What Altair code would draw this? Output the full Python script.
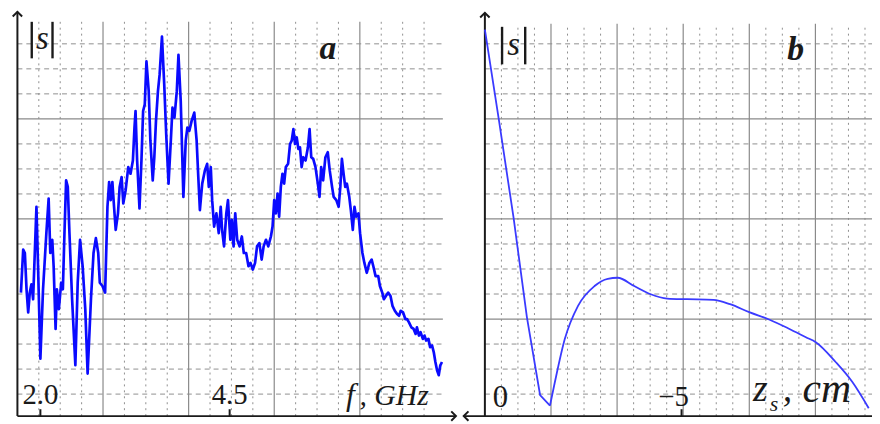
import altair as alt
import pandas as pd

# ---------------- data: panel a, spectrum |s| vs f (GHz) ----------------
f_ghz = [1.743, 1.773, 1.795, 1.817, 1.839, 1.860, 1.882, 1.904, 1.926, 1.948,
         1.969, 2.000, 2.035, 2.079, 2.109, 2.131, 2.157, 2.175, 2.201, 2.218,
         2.244, 2.275, 2.297, 2.318, 2.340, 2.362, 2.384, 2.419, 2.462, 2.493,
         2.524, 2.558, 2.593, 2.624, 2.668, 2.702, 2.733, 2.764, 2.785, 2.820,
         2.855, 2.886, 2.908, 2.929, 2.951, 2.973, 2.995, 3.025, 3.047, 3.073,
         3.095, 3.126, 3.161, 3.191, 3.222, 3.243, 3.257, 3.278, 3.309, 3.335,
         3.357, 3.379, 3.401, 3.431, 3.453, 3.484, 3.505, 3.527, 3.553, 3.575,
         3.606, 3.636, 3.662, 3.693, 3.723, 3.745, 3.771, 3.802, 3.824, 3.854,
         3.889, 3.920, 3.942, 3.968, 3.998, 4.033, 4.064, 4.086, 4.107, 4.138,
         4.173, 4.203, 4.225, 4.251, 4.269, 4.295, 4.325, 4.356, 4.382, 4.400,
         4.426, 4.456, 4.478, 4.509, 4.530, 4.552, 4.574, 4.600, 4.631, 4.661,
         4.687, 4.718, 4.749, 4.775, 4.806, 4.836, 4.862, 4.893, 4.923, 4.949,
         4.980, 5.010, 5.045, 5.067, 5.089, 5.111, 5.133, 5.154, 5.176, 5.198,
         5.220, 5.242, 5.272, 5.298, 5.320, 5.342, 5.364, 5.386, 5.408, 5.429,
         5.451, 5.473, 5.503, 5.534, 5.556, 5.578, 5.604, 5.634, 5.665, 5.687,
         5.709, 5.735, 5.765, 5.796, 5.822, 5.853, 5.874, 5.909, 5.940, 5.962,
         5.983, 6.005, 6.027, 6.049, 6.080, 6.101, 6.127, 6.149, 6.171, 6.202,
         6.223, 6.254, 6.280, 6.311, 6.346, 6.376, 6.398, 6.428, 6.463, 6.485,
         6.516, 6.537, 6.564, 6.594, 6.625, 6.651, 6.682, 6.712, 6.738, 6.760,
         6.791, 6.821, 6.843, 6.869, 6.900, 6.930, 6.957, 6.974, 7.000, 7.022,
         7.052, 7.074, 7.096, 7.126, 7.148, 7.174, 7.196, 7.218, 7.240, 7.262,
         7.283, 7.305]
s_a = [38.3, 51.3, 50.3, 39.3, 32.3, 38.3, 40.8, 36.3, 50.3, 64.3,
       46.3, 18.3, 39.3, 56.3, 66.8, 50.3, 54.3, 46.3, 27.3, 39.3,
       33.3, 41.3, 39.3, 56.3, 72.3, 70.3, 56.3, 36.3, 16.3, 41.3,
       54.3, 46.3, 33.3, 13.8, 36.3, 50.3, 54.8, 50.3, 41.3, 40.3,
       38.3, 64.3, 71.8, 66.3, 71.8, 64.3, 57.3, 62.3, 70.3, 73.3,
       65.3, 69.3, 76.3, 74.3, 78.3, 88.3, 93.3, 78.3, 63.8, 78.3,
       93.3, 95.3, 108.3, 99.3, 84.3, 72.3, 79.3, 90.3, 99.3, 104.3,
       115.8, 101.3, 86.3, 71.3, 84.3, 94.3, 91.3, 99.3, 110.3, 96.3,
       67.3, 84.3, 88.3, 87.3, 90.3, 92.8, 84.3, 73.3, 63.3, 71.3,
       75.3, 77.3, 70.3, 76.3, 66.3, 58.3, 62.3, 56.3, 64.3, 57.3,
       52.3, 62.3, 66.3, 54.3, 60.3, 52.3, 62.3, 54.3, 52.3, 55.3,
       50.3, 50.3, 46.3, 47.3, 45.3, 47.3, 52.3, 53.3, 48.3, 52.3,
       54.3, 52.3, 55.3, 58.3, 66.3, 62.3, 68.3, 61.3, 70.3, 74.3,
       71.3, 76.3, 77.3, 83.3, 84.3, 87.8, 83.3, 85.3, 81.8, 82.3,
       76.3, 79.3, 78.3, 82.3, 87.8, 79.3, 78.8, 76.3, 71.3, 67.3,
       76.3, 72.3, 79.3, 80.8, 75.3, 70.3, 67.3, 66.3, 64.3, 70.3,
       78.8, 74.3, 70.3, 71.3, 67.3, 63.3, 57.3, 64.3, 61.3, 62.3,
       56.3, 50.3, 47.3, 44.3, 47.3, 48.3, 46.3, 43.3, 43.3, 40.3,
       38.3, 36.3, 37.3, 38.3, 37.3, 34.3, 32.8, 31.8, 31.3, 32.8,
       32.3, 30.3, 30.3, 29.3, 27.8, 27.3, 25.8, 27.8, 25.3, 26.3,
       24.3, 25.3, 23.8, 24.3, 21.8, 22.3, 20.3, 17.3, 14.8, 13.3,
       16.3, 17.3]

# ---------------- data: panel b, |s| vs z_s (cm) ----------------
z_cm = [0.0, -0.353, -0.730, -1.068, -1.403, -1.655, -1.781, -2.033, -2.368, -2.788,
        -3.123, -3.375, -3.796, -4.217, -4.635, -5.139, -5.811, -6.232, -6.736, -7.239,
        -7.743, -8.161, -8.413, -8.917, -9.338, -9.758]
s_b = [117.9, 90.8, 60.9, 30.9, 7.3, 4.1, 11.3, 24.3, 34.3, 40.3,
       42.5, 42.8, 40.3, 37.8, 36.5, 36.3, 36.1, 34.8, 32.3, 30.1,
       27.3, 24.8, 23.3, 17.3, 11.3, 3.3]
MIN_INDEX_B = 5  # the sharp minimum of curve b

a_ticks = [2.0, 4.5]
a_tick_labels = ["2.0", "4.5"]
b_ticks = [-5]
b_tick_labels = ["\u22125"]

# ---------------- styling ----------------
SERIF = "Liberation Serif, Times New Roman, Tinos, DejaVu Serif, serif"
GRID = "#8f8f8f"
INK = "#1a1a1a"


def sc(domain, rng):
    return alt.Scale(domain=domain, range=rng, zero=False, nice=False)


FX = sc([1.690, 7.462], [9, 450])
ZX = sc([0, -10], [481.3, 878.3])
SY = sc([0, 123.9], [413, 0])
GXA = sc([0, 20], [9.5, 441.5])
GXB = sc([0, 24], [481.3, 881.6])
GY = sc([0, 16.356], [413, 0])

K_AX = 0.12

UP = "M-1,1L0,0L1,1"
RIGHT = "M-1,-1L0,0L-1,1"
LEFT = "M1,-1L0,0L1,1"


def X(field, scale):
    return alt.X(field, type="quantitative", scale=scale, axis=None)


def Y(field, scale):
    return alt.Y(field, type="quantitative", scale=scale, axis=None)


def text_layer(df, gx, size, style="italic", weight="normal", align="left"):
    return alt.Chart(df).mark_text(
        font=SERIF, fontSize=size, fontStyle=style, fontWeight=weight,
        align=align, baseline="alphabetic", color=INK
    ).encode(x=X("j", gx), y=Y("k", GY), text="t:N")


def grid_panel(gx, n_v, h_end, v_top, x_from, x_to, arrows, bars, s_pos, letter,
               axis_texts):
    vmin = pd.DataFrame({"j": [j for j in range(1, n_v + 1) if j % 4]})
    vmin["k0"], vmin["k1"] = K_AX, v_top
    vmaj = pd.DataFrame({"j": [j for j in range(4, n_v + 1, 4)]})
    vmaj["k0"], vmaj["k1"] = K_AX, v_top
    hmin = pd.DataFrame({"k": [k for k in range(1, 16) if k % 4]})
    hmin["j0"], hmin["j1"] = 0, h_end
    hmaj = pd.DataFrame({"k": [4, 8, 12]})
    hmaj["j0"], hmaj["j1"] = 0, h_end

    axes = pd.DataFrame({
        "j0": [0, x_from], "j1": [0, x_to],
        "k0": [K_AX, K_AX], "k1": [arrows[0][1], K_AX],
    })
    arr = pd.DataFrame({"j": [a[0] for a in arrows], "k": [a[1] for a in arrows],
                        "shape": [a[2] for a in arrows]})
    bar_df = pd.DataFrame({"j0": bars[0], "k0": bars[1], "k1": bars[2]})

    layers = [
        alt.Chart(vmin).mark_rule(stroke=GRID, strokeWidth=1, strokeDash=[2, 4]).encode(
            x=X("j", gx), y=Y("k0", GY), y2="k1"),
        alt.Chart(hmin).mark_rule(stroke=GRID, strokeWidth=1, strokeDash=[5, 4]).encode(
            y=Y("k", GY), x=X("j0", gx), x2="j1"),
        alt.Chart(vmaj).mark_rule(stroke="#8a8a8a", strokeWidth=1.2).encode(
            x=X("j", gx), y=Y("k0", GY), y2="k1"),
        alt.Chart(hmaj).mark_rule(stroke="#8a8a8a", strokeWidth=1.2).encode(
            y=Y("k", GY), x=X("j0", gx), x2="j1"),
        alt.Chart(axes).mark_rule(stroke=INK, strokeWidth=2).encode(
            x=X("j0", gx), x2="j1", y=Y("k0", GY), y2="k1"),
        alt.Chart(arr).mark_point(filled=False, stroke=INK, strokeWidth=2, size=90,
                                  opacity=1).encode(
            x=X("j", gx), y=Y("k", GY), shape=alt.Shape("shape:N", scale=None)),
        alt.Chart(bar_df).mark_rule(stroke=INK, strokeWidth=2.4).encode(
            x=X("j0", gx), y=Y("k0", GY), y2="k1"),
        text_layer(pd.DataFrame({"j": [s_pos[0]], "k": [s_pos[1]], "t": ["s"]}), gx, 33,
                   align="center"),
        text_layer(pd.DataFrame({"j": [letter[0]], "k": [letter[1]], "t": [letter[2]]}),
                   gx, 34, weight="bold", align="center"),
    ]
    for (j, k, t, size) in axis_texts:
        layers.append(text_layer(pd.DataFrame({"j": [j], "k": [k], "t": [t]}), gx, size))
    return alt.layer(*layers)


grid_a = grid_panel(
    GXA, 19, 19.88, 15.88, 0, 20.49,
    arrows=[(0, 16.28, UP), (20.49, K_AX, RIGHT)],
    bars=([0.67, 1.64], [14.42, 14.42], [15.88, 15.88]),
    s_pos=(1.16, 14.81), letter=(14.51, 14.38, "a"),
    axis_texts=[(15.35, 0.554, "f", 32), (15.98, 0.554, ", GHz", 30)],
)

grid_b = grid_panel(
    GXB, 23, 23.6, 15.8, -1.28, 23.6,
    arrows=[(0, 16.24, UP), (-1.28, K_AX, LEFT)],
    bars=([1.04, 2.44], [14.18, 14.18], [15.68, 15.68]),
    s_pos=(1.74, 14.57), letter=(18.81, 14.36, "b"),
    axis_texts=[(16.23, 0.713, "z", 38), (17.24, 0.317, "s", 22),
                (18.02, 0.713, ",", 38), (19.22, 0.673, "cm", 42)],
)

# ---------------- data layers ----------------
df_a = pd.DataFrame({"f": f_ghz, "s": s_a})
df_b_fall = pd.DataFrame({"z": z_cm[:MIN_INDEX_B + 1], "s": s_b[:MIN_INDEX_B + 1]})
df_b_rise = pd.DataFrame({"z": z_cm[MIN_INDEX_B:], "s": s_b[MIN_INDEX_B:]})
ticks_a = pd.DataFrame({"f": a_ticks, "t": a_tick_labels, "s0": 0.9, "s1": 3.0, "sl": 4.5})
ticks_b = pd.DataFrame({"z": b_ticks, "t": b_tick_labels, "s0": 0.9, "s1": 3.0, "sl": 3.9})
zero_b = pd.DataFrame({"z": [0], "t": ["0"], "sl": [3.6]})

data_a = alt.layer(
    alt.Chart(df_a).mark_line(color="#0a0aff", strokeWidth=2.7, strokeJoin="round").encode(
        x=X("f", FX), y=Y("s", SY), order="f:Q"),
    alt.Chart(ticks_a).mark_rule(stroke=INK, strokeWidth=2).encode(
        x=X("f", FX), y=Y("s0", SY), y2="s1"),
    alt.Chart(ticks_a).mark_text(font=SERIF, fontSize=29, align="center",
                                 baseline="alphabetic", color=INK).encode(
        x=X("f", FX), y=Y("sl", SY), text="t:N"),
)

data_b = alt.layer(
    alt.Chart(df_b_fall).mark_line(color="#3a3aff", strokeWidth=1.8).encode(
        x=X("z", ZX), y=Y("s", SY), order=alt.Order("z:Q", sort="descending")),
    alt.Chart(df_b_rise).mark_line(color="#3a3aff", strokeWidth=1.8,
                                   interpolate="monotone").encode(
        x=X("z", ZX), y=Y("s", SY), order=alt.Order("z:Q", sort="descending")),
    alt.Chart(ticks_b).mark_rule(stroke=INK, strokeWidth=2).encode(
        x=X("z", ZX), y=Y("s0", SY), y2="s1"),
    alt.Chart(ticks_b).mark_text(font=SERIF, fontSize=29, align="center", dx=-8,
                                 baseline="alphabetic", color=INK).encode(
        x=X("z", ZX), y=Y("sl", SY), text="t:N"),
    alt.Chart(zero_b).mark_text(font=SERIF, fontSize=31, align="left", dx=8,
                                baseline="alphabetic", color=INK).encode(
        x=X("z", ZX), y=Y("sl", SY), text="t:N"),
)

chart = alt.layer(grid_a, data_a, grid_b, data_b).resolve_scale(
    x="independent", y="independent"
).properties(
    width=872, height=416, padding=0,
    autosize=alt.AutoSizeParams(type="none"), background="white",
).configure_view(stroke=None)

chart.save("out.html", embed_options={"renderer": "svg", "actions": False})
